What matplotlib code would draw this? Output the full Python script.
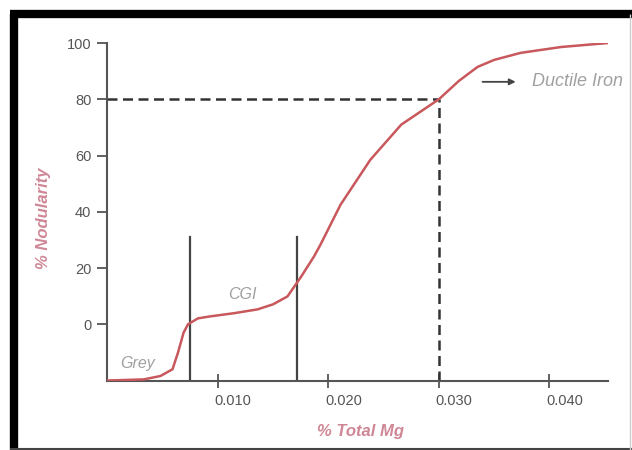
import matplotlib
matplotlib.use("Agg")
import matplotlib.pyplot as plt
from matplotlib.lines import Line2D
from matplotlib.transforms import ScaledTranslation

plt.rcParams["font.family"] = ["Liberation Sans", "DejaVu Sans"]

# values
mg = [0, 0.0033, 0.0048, 0.0059, 0.0064, 0.0069, 0.0073, 0.0082, 0.0093,
      0.0114, 0.0136, 0.0150, 0.0163, 0.0175, 0.0187, 0.0193, 0.0211,
      0.0238, 0.0266, 0.0300, 0.0318, 0.0335, 0.0350, 0.0374, 0.0411, 0.0453]
nodularity = [-20, -19.6, -18.4, -16, -10, -3, 0, 2.1, 2.8,
              3.9, 5.3, 7.1, 9.9, 16.7, 24.1, 28.4, 42.5,
              58.5, 71, 80, 86.5, 91.5, 94, 96.5, 98.6, 100]
boundaries = [0.0075, 0.0172]
boundary_top = 31
ductile_mg = 0.030
ductile_nod = 80
y_ticks = [0, 20, 40, 60, 80, 100]
x_ticks = [0.010, 0.020, 0.030, 0.040]
x_tick_labels = ["0.010", "0.020", "0.030", "0.040"]
y_bottom = -20

fig = plt.figure(figsize=(6.32, 4.5), dpi=100)
ax = fig.add_axes([0.1698, 0.1544, 0.7922, 0.75])

axis_color = "#555555"
curve_color = "#c8585c"
label_color = "#cf8796"
note_color = "#a0a0a0"

ax.plot(mg, nodularity, color=curve_color, lw=1.8, solid_capstyle="round", zorder=3)

for b in boundaries:
    ax.plot([b, b], [y_bottom, boundary_top], color="#444444", lw=1.6, zorder=2)

ax.plot([0, ductile_mg], [ductile_nod, ductile_nod], color="#333333", lw=1.8,
        dashes=(4, 2.2), zorder=2)
ax.plot([ductile_mg, ductile_mg], [y_bottom, ductile_nod], color="#333333", lw=1.8,
        dashes=(4, 2.2), zorder=2)

ax.set_xlim(0, 0.0453)
ax.set_ylim(y_bottom, 100)
for side in ["top", "right"]:
    ax.spines[side].set_visible(False)
for side in ["left", "bottom"]:
    ax.spines[side].set_color(axis_color)
    ax.spines[side].set_linewidth(1.5)

ax.set_yticks(y_ticks)
ax.set_xticks(x_ticks)
ax.set_xticklabels(x_tick_labels)
ax.tick_params(axis="y", direction="out", length=7, width=1.3, color=axis_color,
               labelcolor="#555555", labelsize=10.5, pad=4.5)
ax.tick_params(axis="x", direction="inout", length=10, width=1.3, color=axis_color,
               labelcolor="#555555", labelsize=10.5, pad=5)
shift = ScaledTranslation(15 / 100, 0, fig.dpi_scale_trans)
for lbl in ax.get_xticklabels():
    lbl.set_transform(lbl.get_transform() + shift)

ax.set_xlabel("% Total Mg", color=label_color, fontsize=12, style="italic",
              fontweight="bold")
ax.set_ylabel("% Nodularity", color=label_color, fontsize=12, style="italic",
              fontweight="bold")
ax.xaxis.set_label_coords(0.505, -0.13)
ax.yaxis.set_label_coords(-0.112, 0.48)

ax.text(0.00115, -13.8, "Grey", color=note_color, fontsize=11.5, style="italic",
        va="center", ha="left")
ax.text(0.0109, 10.6, "CGI", color=note_color, fontsize=11.5, style="italic",
        va="center", ha="left")
ax.annotate("", xy=(0.0372, 86.2), xytext=(0.0337, 86.2),
            arrowprops=dict(arrowstyle="-|>", color="#444444", lw=1.3,
                            mutation_scale=9))
ax.text(0.0384, 86.2, "Ductile Iron", color=note_color, fontsize=13,
        style="italic", va="center", ha="left", clip_on=False)

# scanned frame around the figure
W, H = 632, 450
frame = [
    ((13.5, 13.5), (14, 452), "black", 6),
    ((9.5, 640), (14, 14), "black", 6),
    ((9.5, 640), (449, 449), "#444444", 1.5),
    ((629.5, 629.5), (14, 452), "#cccccc", 1.0),
]
for xs, ys, c, w in frame:
    fig.add_artist(Line2D([x / W for x in xs], [1 - y / H for y in ys],
                          transform=fig.transFigure, color=c, lw=w,
                          solid_capstyle="butt"))

fig.savefig("out.png", dpi=100)
